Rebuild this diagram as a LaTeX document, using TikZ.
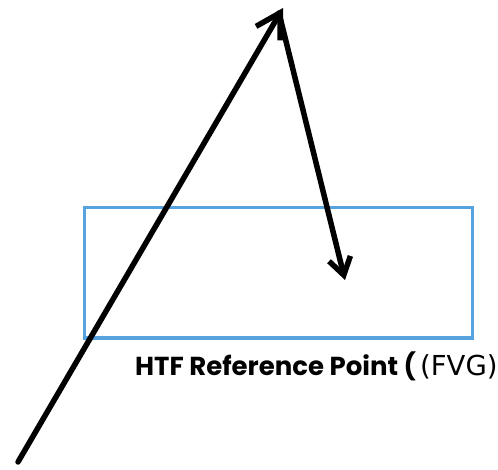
\documentclass[tikz,border=0pt]{standalone}
\usepackage{fontspec}
\setmainfont{Poppins}
\newfontfamily\tagfont{DejaVu Sans}
\usetikzlibrary{arrows.meta}
\definecolor{htfblue}{RGB}{86,163,224}

\begin{document}
\begin{tikzpicture}[x=1pt, y=-1pt,
    move/.style={line width=5.5pt, line cap=round, line join=round},
    htfbox/.style={draw=htfblue, line width=3pt, minimum width=388pt, minimum height=130pt, inner sep=0pt}]
    \useasboundingbox (0,0) rectangle (498,470);

    % Points of the price path
    \coordinate (base) at (18,462);
    \coordinate (apex) at (283,8);
    \coordinate (turn) at (279,13);
    \coordinate (entry) at (345,280);

    % HTF zone
    \node[htfbox] (zone) at (278,273) {};
    \node[anchor=base west, inner sep=0pt, font=\fontsize{26}{30}\selectfont\bfseries] (lbl) at (135,375) {HTF Reference Point (};
    \node[anchor=base west, inner sep=0pt, font=\fontsize{27.5}{33}\selectfont\tagfont] (tag) at (420,375) {(FVG)};

    % Impulse up and the pullback
    \draw[move, -{Straight Barb[length=24pt, width=28pt]}] (base) -- (apex);
    \draw[move, -{Straight Barb[length=17pt, width=22pt]}] (turn) -- (entry);
\end{tikzpicture}
\end{document}
